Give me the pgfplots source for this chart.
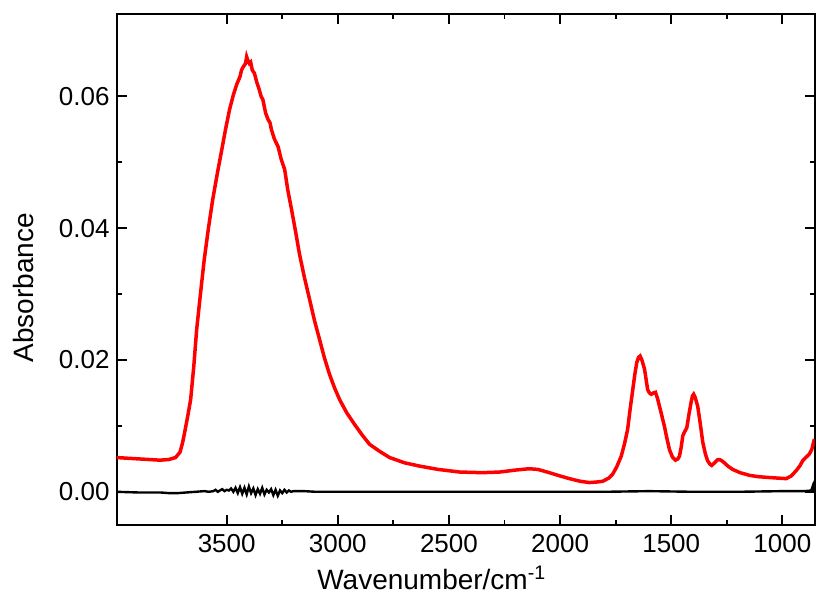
\documentclass[border=0pt]{standalone}
\usepackage{fontspec}
\setmainfont{Liberation Sans}
\usepackage{pgfplots}
\pgfplotsset{compat=1.18}

\begin{document}
\begin{tikzpicture}
\useasboundingbox (-58.35pt,-38pt) rectangle (350.85pt,262.5pt);
\begin{axis}[
    at={(0,0)}, anchor=south west,
    scale only axis,
    width=349.15pt, height=255.5pt,
    x dir=reverse,
    xmin=855, xmax=3995,
    ymin=-0.005, ymax=0.0725,
    xtick={1000,1500,2000,2500,3000,3500},
    ytick={0,0.02,0.04,0.06},
    minor x tick num=1, minor y tick num=1,
    tick align=inside,
    major tick length=5pt, minor tick length=2.5pt,
    axis line style={line width=1pt},
    every tick/.style={black, line width=0.9pt},
    scaled y ticks=false,
    tick label style={font=\fontsize{13}{15}\selectfont},
    label style={font=\fontsize{14}{16}\selectfont},
    /pgf/number format/assume math mode=true,
    xticklabel style={/pgf/number format/1000 sep={}, yshift=-1.5pt},
    yticklabel style={/pgf/number format/.cd, fixed, fixed zerofill, precision=2},
    xlabel={Wavenumber/cm\textsuperscript{-1}},
    ylabel={Absorbance},
    xlabel style={at={([yshift=-32.5pt]axis description cs:0.4515,0)}, anchor=base},
    ylabel style={at={([xshift=-41.8pt]axis description cs:0,0.4638)}, anchor=base},
]
% black reference trace
\addplot[black, line width=1.2pt] coordinates {
(3995,0.0000) (3900,-0.0001) (3800,-0.0001) (3760,-0.0002) (3720,-0.0002)
(3680,-0.0001) (3640,0.0000) (3600,0.0001) (3580,0.0000) (3560,0.0001)
(3550,0.0003) (3540,0.0000) (3530,0.0002) (3520,0.0004) (3510,0.0001)
(3500,0.0003) (3490,0.0002) (3480,0.0005) (3470,0.0000) (3460,0.0006)
(3450,-0.0002) (3440,0.0007) (3430,-0.0003) (3420,0.0006) (3410,-0.0004)
(3400,0.0008) (3390,-0.0002) (3380,0.0005) (3370,-0.0005) (3360,0.0004)
(3350,-0.0003) (3340,0.0006) (3330,-0.0004) (3320,0.0003) (3310,-0.0001)
(3300,0.0004) (3290,-0.0005) (3280,0.0003) (3270,-0.0006) (3260,0.0002)
(3250,-0.0002) (3240,0.0003) (3230,-0.0001) (3220,0.0002) (3210,0.0000)
(3200,0.0001) (3150,0.0001) (3100,0.0000) (3000,0.0000) (2800,0.0000)
(2600,0.0000) (2400,0.0000) (2200,0.0000) (2000,0.0000) (1800,0.0000)
(1600,0.0001) (1400,0.0000) (1200,0.0000) (1000,0.0001) (900,0.0001)
(870,0.0002) (862,0.0010) (858,0.0002) (855,0.0000)
};
% red sample trace
\addplot[red, line width=1.75pt] coordinates {
(3995,0.0052) (3950,0.0051) (3900,0.0050) (3850,0.0049) (3800,0.0048)
(3760,0.0049) (3730,0.0052) (3710,0.0060) (3698,0.0075) (3689,0.0090)
(3675,0.0115) (3662,0.0140) (3648,0.0190) (3635,0.0246) (3618,0.0300)
(3601,0.0352) (3582,0.0400) (3563,0.0443) (3542,0.0483) (3522,0.0519)
(3505,0.0550) (3487,0.0580) (3470,0.0602) (3455,0.0618) (3440,0.0630)
(3433,0.0640) (3425,0.0645) (3415,0.0650) (3410,0.0660) (3405,0.0655)
(3398,0.0650) (3392,0.0652) (3385,0.0640) (3375,0.0635) (3365,0.0622)
(3355,0.0612) (3345,0.0600) (3337,0.0595) (3325,0.0575) (3314,0.0565)
(3305,0.0560) (3299,0.0550) (3285,0.0535) (3269,0.0524) (3255,0.0505)
(3239,0.0489) (3225,0.0458) (3208,0.0428) (3190,0.0395) (3172,0.0360)
(3150,0.0325) (3127,0.0292) (3105,0.0260) (3082,0.0231) (3060,0.0203)
(3037,0.0178) (3015,0.0158) (2992,0.0140) (2960,0.0120) (2924,0.0102)
(2890,0.0086) (2857,0.0072) (2810,0.0061) (2767,0.0052) (2700,0.0044)
(2632,0.0039) (2550,0.0034) (2452,0.0030) (2350,0.0029) (2272,0.0030)
(2200,0.0033) (2140,0.0035) (2100,0.0034) (2048,0.0029) (2000,0.0024)
(1958,0.0020) (1910,0.0016) (1868,0.0014) (1830,0.0015) (1808,0.0016)
(1780,0.0021) (1763,0.0027) (1745,0.0038) (1725,0.0054) (1710,0.0073)
(1696,0.0095) (1685,0.0125) (1673,0.0155) (1663,0.0180) (1655,0.0196)
(1647,0.0204) (1640,0.0206) (1632,0.0200) (1620,0.0186) (1612,0.0168)
(1606,0.0155) (1598,0.0150) (1590,0.0148) (1580,0.0150) (1571,0.0151)
(1562,0.0142) (1553,0.0130) (1542,0.0115) (1531,0.0100) (1520,0.0082)
(1508,0.0064) (1495,0.0053) (1481,0.0048) (1470,0.0050) (1463,0.0054)
(1455,0.0068) (1448,0.0085) (1440,0.0091) (1430,0.0097) (1420,0.0118)
(1411,0.0135) (1405,0.0145) (1399,0.0148) (1392,0.0143) (1381,0.0130)
(1370,0.0105) (1358,0.0075) (1346,0.0057) (1336,0.0047) (1326,0.0042)
(1318,0.0040) (1305,0.0044) (1290,0.0049) (1283,0.0049) (1272,0.0047)
(1261,0.0044) (1245,0.0039) (1224,0.0034) (1190,0.0029) (1148,0.0025)
(1110,0.0023) (1073,0.0022) (1030,0.0021) (983,0.0020) (960,0.0024)
(938,0.0032) (920,0.0040) (909,0.0047) (895,0.0052) (879,0.0057)
(868,0.0064) (856,0.0080)
};
\end{axis}
\end{tikzpicture}
\end{document}
